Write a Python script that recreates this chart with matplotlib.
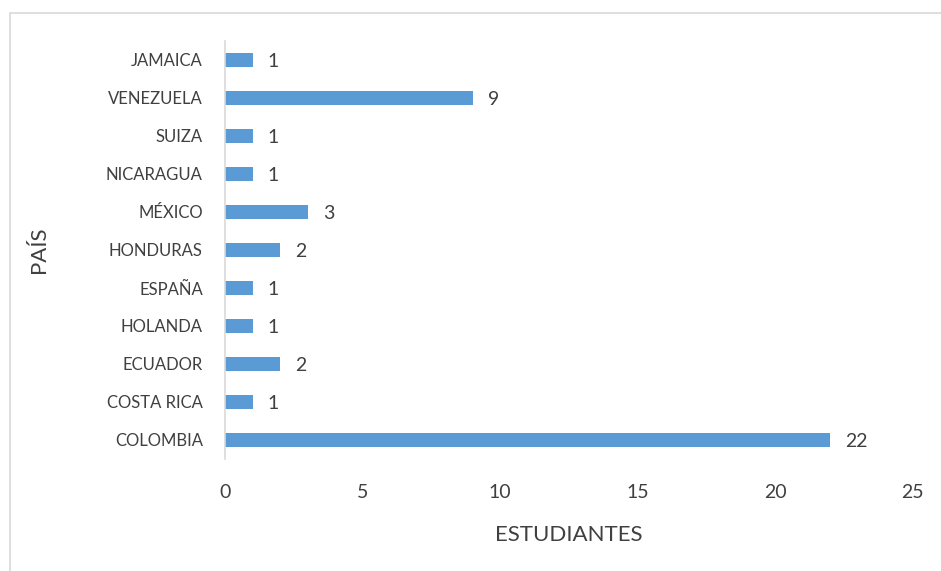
import matplotlib
matplotlib.use("Agg")
import matplotlib.pyplot as plt
from matplotlib.patches import Rectangle

paises = ["COLOMBIA", "COSTA RICA", "ECUADOR", "HOLANDA", "ESPAÑA", "HONDURAS",
          "MÉXICO", "NICARAGUA", "SUIZA", "VENEZUELA", "JAMAICA"]
estudiantes = [22, 1, 2, 1, 1, 2, 3, 1, 1, 9, 1]
xticks = [0, 5, 10, 15, 20, 25]

texto = "#404040"
plt.rcParams['font.family'] = ['Lato', 'DejaVu Sans']

fig = plt.figure(figsize=(9.41, 5.71), dpi=100)
W, H = 941, 571

# marco gris del area del grafico
fig.patches.append(Rectangle((10 / W, -0.1), 1.2, 1 - 13 / H + 0.1,
                             transform=fig.transFigure, fill=False,
                             edgecolor="#D9D9D9", linewidth=1.2))

ax = fig.add_axes([225 / W, 1 - 459 / H, (912.5 - 225) / W, (459 - 41) / H])
y = range(len(paises))
ax.barh(y, estudiantes, height=0.35, color="#5B9BD5")
for i, v in enumerate(estudiantes):
    ax.text(v + 0.55, i - 0.03, str(v), va="center", ha="left", fontsize=14, color=texto)

ax.set_xlim(0, 25)
ax.set_ylim(-0.5, len(paises) - 0.5)
ax.set_xticks(xticks)
ax.set_yticks(list(y))
ax.set_yticklabels(paises)
ax.tick_params(axis="x", length=0, labelsize=14, colors=texto, pad=18)
ax.tick_params(axis="y", length=0, labelsize=12, colors=texto, pad=16)

for s in ["top", "right", "bottom"]:
    ax.spines[s].set_visible(False)
ax.spines["left"].set_color("#D9D9D9")
ax.spines["left"].set_linewidth(1.2)

ax.set_xlabel("ESTUDIANTES", fontsize=16, color=texto, labelpad=17)
ax.set_ylabel("PAÍS", fontsize=16, color=texto, labelpad=0)
ax.yaxis.set_label_coords(-0.256, 0.5)

fig.savefig("out.png", dpi=100)
